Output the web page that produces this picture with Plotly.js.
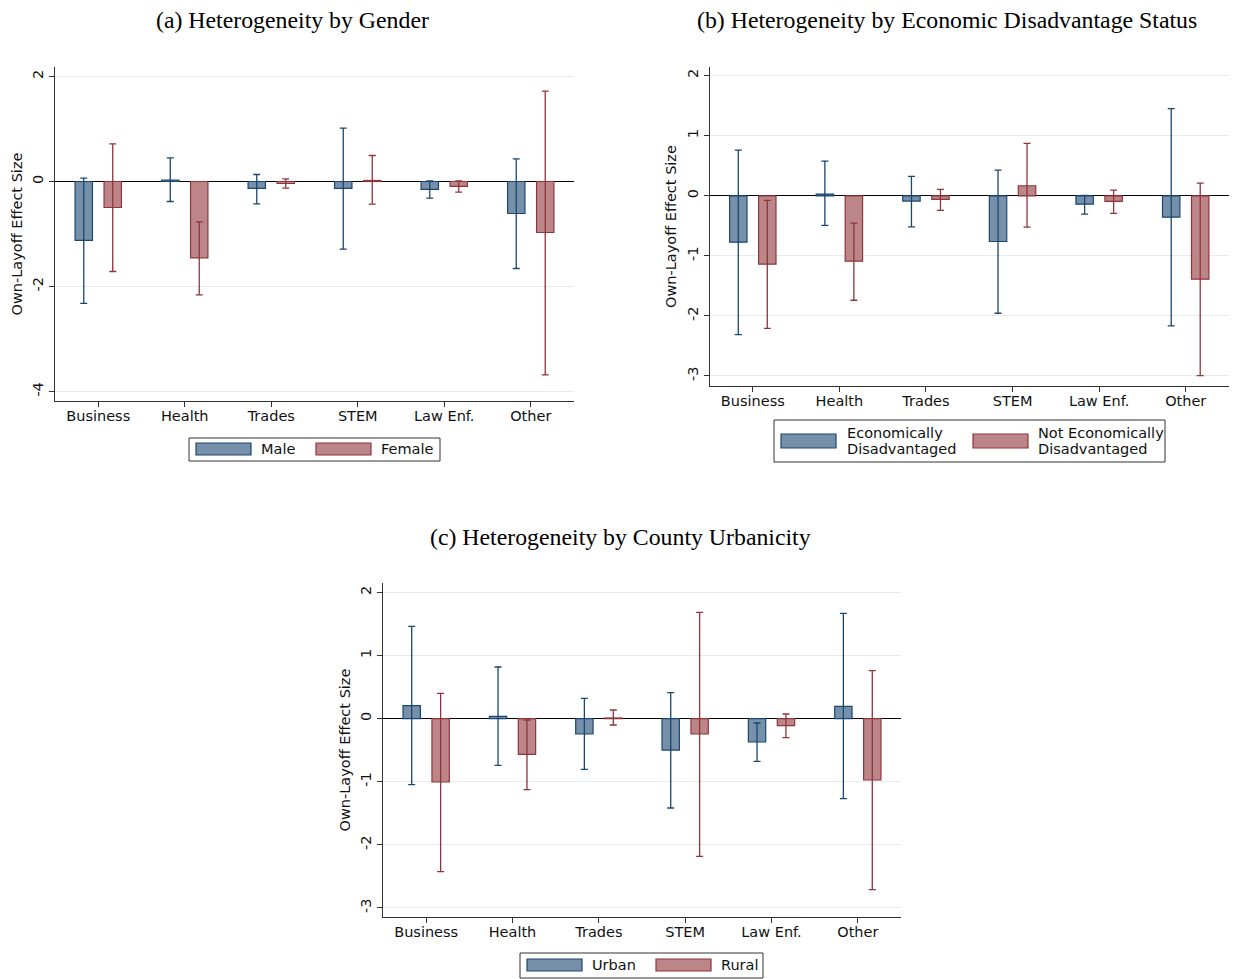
<!DOCTYPE html>
<html><head><meta charset="utf-8">
<script src="https://cdn.plot.ly/plotly-3.0.1.min.js"></script>
<style>html,body{margin:0;padding:0;background:#fff}#chart{width:1233px;height:979px}</style>
</head><body><div id="chart"></div>
<script>
// ---------- DATA ----------
const categories = ["Business", "Health", "Trades", "STEM", "Law Enf.", "Other"];
const yTitle = "Own-Layoff Effect Size";
const panelTitles = ["(a) Heterogeneity by Gender",
                     "(b) Heterogeneity by Economic Disadvantage Status",
                     "(c) Heterogeneity by County Urbanicity"];
const ticksA = [2, 0, -2, -4];
const ticksBC = [2, 1, 0, -1, -2, -3];

// (a) Gender
const genderNames = ["Male", "Female"];
const maleEst   = [-1.12, 0.025, -0.133, -0.133, -0.152, -0.610];
const maleLo    = [-2.32, -0.381, -0.425, -1.289, -0.317, -1.657];
const maleHi    = [0.063, 0.451, 0.133, 1.016, 0.013, 0.432];
const femaleEst = [-0.495, -1.454, -0.038, 0.019, -0.095, -0.971];
const femaleLo  = [-1.714, -2.159, -0.127, -0.432, -0.203, -3.683];
const femaleHi  = [0.717, -0.768, 0.051, 0.495, 0.013, 1.721];

// (b) Economic disadvantage
const econNames = ["Economically\nDisadvantaged", "Not Economically\nDisadvantaged"];
const econEst    = [-0.772, 0.028, -0.089, -0.761, -0.139, -0.356];
const econLo     = [-2.311, -0.494, -0.517, -1.956, -0.306, -2.167];
const econHi     = [0.761, 0.578, 0.322, 0.428, 0.006, 1.450];
const notEconEst = [-1.139, -1.089, -0.061, 0.167, -0.094, -1.389];
const notEconLo  = [-2.206, -1.739, -0.244, -0.522, -0.294, -2.994];
const notEconHi  = [-0.078, -0.456, 0.106, 0.872, 0.094, 0.211];

// (c) Urbanicity
const urbNames = ["Urban", "Rural"];
const urbanEst = [0.206, 0.037, -0.243, -0.497, -0.370, 0.195];
const urbanLo  = [-1.046, -0.740, -0.803, -1.416, -0.676, -1.268];
const urbanHi  = [1.463, 0.819, 0.322, 0.412, -0.069, 1.669];
const ruralEst = [-1.004, -0.565, 0.011, -0.243, -0.111, -0.972];
const ruralLo  = [-2.425, -1.125, -0.100, -2.182, -0.301, -2.710];
const ruralHi  = [0.401, -0.021, 0.137, 1.685, 0.074, 0.761];

// ---------- STYLE ----------
const W = 1233, H = 979;
const BLUE_FILL = "#7690aa", BLUE_EDGE = "#1a476f";
const RED_FILL = "#bc8689", RED_EDGE = "#90353b";
const FONT = "DejaVu Sans";
const px = x => x / W, py = y => 1 - y / H;

function barTrace(est, lo, hi, fill, edge, xa, ya) {
  return {
    type: "bar", x: categories, y: est, xaxis: xa, yaxis: ya,
    marker: {color: fill, line: {color: edge, width: 1.2}},
    error_y: {type: "data", symmetric: false,
      array: hi.map((h, i) => h - est[i]),
      arrayminus: lo.map((l, i) => est[i] - l),
      color: edge, thickness: 1.3, width: 3.5},
    showlegend: false, hoverinfo: "x+y"
  };
}

const data = [
  barTrace(maleEst, maleLo, maleHi, BLUE_FILL, BLUE_EDGE, "x", "y"),
  barTrace(femaleEst, femaleLo, femaleHi, RED_FILL, RED_EDGE, "x", "y"),
  barTrace(econEst, econLo, econHi, BLUE_FILL, BLUE_EDGE, "x2", "y2"),
  barTrace(notEconEst, notEconLo, notEconHi, RED_FILL, RED_EDGE, "x2", "y2"),
  barTrace(urbanEst, urbanLo, urbanHi, BLUE_FILL, BLUE_EDGE, "x3", "y3"),
  barTrace(ruralEst, ruralLo, ruralHi, RED_FILL, RED_EDGE, "x3", "y3")
];

function xAxis(left, right, anchor) {
  return {domain: [px(left), px(right)], anchor: anchor, type: "category",
    range: [-0.5, 5.5], showline: true, linecolor: "#333", linewidth: 1,
    ticks: "outside", ticklen: 5, tickcolor: "#333", ticklabelstandoff: -3,
    tickfont: {family: FONT, size: 14.5, color: "#111"},
    showgrid: false, zeroline: false};
}
function yAxis(top, bottom, range, tickvals, anchor) {
  return {domain: [py(bottom), py(top)], anchor: anchor, range: range,
    tickmode: "array", tickvals: tickvals, ticktext: tickvals.map(v => String(v)),
    tickangle: -90, showline: true, linecolor: "#333", linewidth: 1,
    ticks: "outside", ticklen: 5, tickcolor: "#333",
    tickfont: {family: FONT, size: 14.5, color: "#111"},
    showgrid: true, gridcolor: "#e4ecef", gridwidth: 1,
    zeroline: true, zerolinecolor: "#000", zerolinewidth: 1.3,
    title: {text: yTitle, font: {family: FONT, size: 14.5, color: "#111"}, standoff: 4}};
}

const annotations = [];
const shapes = [];
function title(text, cx, cy) {
  annotations.push({xref: "paper", yref: "paper", x: px(cx), y: py(cy), text: text,
    showarrow: false, xanchor: "center", yanchor: "middle",
    font: {family: "Liberation Serif", size: 23.8, color: "#000"}});
}
title(panelTitles[0], 292, 20);
title(panelTitles[1], 947, 20);
title(panelTitles[2], 620, 537);

function legendBox(x0, y0, x1, y1) {
  shapes.push({type: "rect", xref: "paper", yref: "paper", x0: px(x0), x1: px(x1),
    y0: py(y1), y1: py(y0), line: {color: "#333", width: 1}, fillcolor: "rgba(0,0,0,0)"});
}
function legendItem(name, fill, edge, sx0, sx1, sy0, sy1, tx) {
  shapes.push({type: "rect", xref: "paper", yref: "paper", x0: px(sx0), x1: px(sx1),
    y0: py(sy1), y1: py(sy0), line: {color: edge, width: 1.2}, fillcolor: fill});
  const lines = name.split("\n");
  const mid = (sy0 + sy1) / 2, lh = 16;
  lines.forEach((ln, k) => {
    const cy = mid + (k - (lines.length - 1) / 2) * lh;
    annotations.push({xref: "paper", yref: "paper", x: px(tx), y: py(cy), text: ln,
      showarrow: false, xanchor: "left", yanchor: "middle",
      font: {family: FONT, size: 14.5, color: "#111"}});
  });
}
// legend (a)
legendBox(189, 438, 440, 461);
legendItem(genderNames[0], BLUE_FILL, BLUE_EDGE, 196, 251, 443, 455, 259);
legendItem(genderNames[1], RED_FILL, RED_EDGE, 316, 371, 443, 455, 379);
// legend (b)
legendBox(774, 420, 1165, 462);
legendItem(econNames[0], BLUE_FILL, BLUE_EDGE, 781, 836, 434, 448, 845);
legendItem(econNames[1], RED_FILL, RED_EDGE, 973, 1028, 434, 448, 1036);
// legend (c)
legendBox(520, 953, 763, 978);
legendItem(urbNames[0], BLUE_FILL, BLUE_EDGE, 527, 582, 959, 971, 590);
legendItem(urbNames[1], RED_FILL, RED_EDGE, 656, 711, 959, 971, 719);

const layout = {
  width: W, height: H, margin: {l: 0, r: 0, t: 0, b: 0},
  paper_bgcolor: "#fff", plot_bgcolor: "#fff",
  barmode: "group", bargap: 0.33, bargroupgap: 0.4,
  showlegend: false,
  xaxis: xAxis(55, 574, "y"),
  yaxis: yAxis(67, 401, [-4.18, 2.18], ticksA, "x"),
  xaxis2: xAxis(709.5, 1229, "y2"),
  yaxis2: yAxis(67, 386, [-3.167, 2.144], ticksBC, "x2"),
  xaxis3: xAxis(383, 901, "y3"),
  yaxis3: yAxis(583, 917, [-3.143, 2.15], ticksBC, "x3"),
  annotations: annotations, shapes: shapes
};

Plotly.newPlot("chart", data, layout, {staticPlot: true, displayModeBar: false});
</script></body></html>
